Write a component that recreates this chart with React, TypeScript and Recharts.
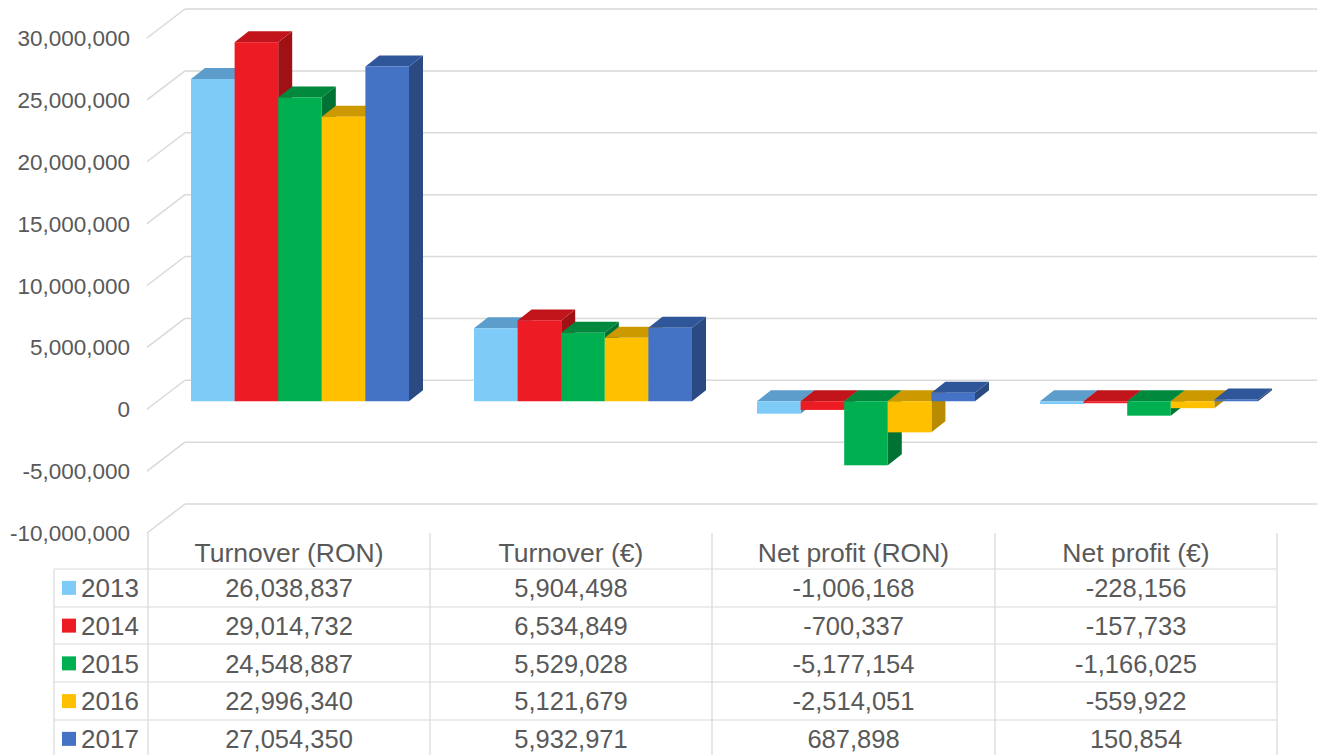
import React from 'react';
import { BarChart, Bar, XAxis, YAxis, CartesianGrid } from 'recharts';

// ---- data ----
const categories = ['Turnover (RON)', 'Turnover (€)', 'Net profit (RON)', 'Net profit (€)'];
const years = ['2013', '2014', '2015', '2016', '2017'];
const values2013 = [26038837, 5904498, -1006168, -228156];
const values2014 = [29014732, 6534849, -700337, -157733];
const values2015 = [24548887, 5529028, -5177154, -1166025];
const values2016 = [22996340, 5121679, -2514051, -559922];
const values2017 = [27054350, 5932971, 687898, 150854];
const yTicks = [-10000000, -5000000, 0, 5000000, 10000000, 15000000, 20000000, 25000000, 30000000];

const seriesValues = [values2013, values2014, values2015, values2016, values2017];

// front / top / side shades for each year
const palette = [
  { front: '#7FCBF8', top: '#5C9DCC', side: '#5890BD' },
  { front: '#ED1C24', top: '#C1151B', side: '#A01116' },
  { front: '#00B050', top: '#00883D', side: '#007234' },
  { front: '#FFC000', top: '#CC9A00', side: '#B88B00' },
  { front: '#4472C4', top: '#30569A', side: '#2C4A82' },
];

const data = categories.map((category, i) => {
  const row: Record<string, string | number> = { category };
  years.forEach((year, j) => {
    row[year] = seriesValues[j][i];
  });
  return row;
});

// ---- layout ----
const W = 1317;
const H = 755;
const CHART_H = 560;
const FONT = '"Liberation Sans", Arial, Helvetica, sans-serif';
const TEXT = '#595959';
const GRID = '#D9D9D9';
const DX = 14; // depth offset of the 3D faces
const DY = 11;
const BACK = 21; // back wall sits this far above the front plane
const LABEL_DROP = 8;

const fmt = (v: number) => v.toLocaleString('en-US');

function makeBarShape(colors: { front: string; top: string; side: string }) {
  return (props: any) => {
    const { x, y, width, height } = props;
    if (x == null || y == null) return <g />;
    const t = Math.min(y, y + height);
    const h = Math.abs(height);
    const l = x;
    const r = x + width;
    const b = t + h;
    return (
      <g>
        <polygon points={`${r},${t} ${r + DX},${t - DY} ${r + DX},${b - DY} ${r},${b}`} fill={colors.side} />
        <polygon points={`${l},${t} ${l + DX},${t - DY} ${r + DX},${t - DY} ${r},${t}`} fill={colors.top} />
        <rect x={l} y={t} width={width} height={h} fill={colors.front} />
      </g>
    );
  };
}

// back-wall gridline with the slanted connector to the value label
const gridLine = (props: any) => {
  const { x1, x2, y1, index } = props;
  const yb = y1 - BACK;
  return (
    <g key={`g-${index}`}>
      <line x1={x1 - 11} y1={y1 + LABEL_DROP} x2={x1 + 27} y2={yb} stroke={GRID} strokeWidth={1.5} />
      <line x1={x1 + 27} y1={yb} x2={x2 + 27} y2={yb} stroke={GRID} strokeWidth={1.5} />
    </g>
  );
};

const YTick = (props: any) => {
  const { y, payload } = props;
  return (
    <text
      x={130}
      y={y + LABEL_DROP}
      dy="0.36em"
      textAnchor="end"
      fontSize={22.5}
      fontFamily={FONT}
      fill={TEXT}
    >
      {fmt(payload.value)}
    </text>
  );
};

// ---- data table under the chart ----
const COLS = [148, 430, 712, 995, 1277];
const LEGEND_LEFT = 54;
const TABLE_TOP = 533;
const ROW_LINES = [569, 607, 644, 682, 720];
const ROW_H = 37.75;

function DataTable() {
  return (
    <svg width={W} height={H} style={{ position: 'absolute', left: 0, top: 0, pointerEvents: 'none' }}>
      {COLS.map((cx, i) => (
        <line key={`v${i}`} x1={cx} y1={TABLE_TOP} x2={cx} y2={H} stroke={GRID} strokeWidth={1.2} />
      ))}
      <line x1={LEGEND_LEFT} y1={ROW_LINES[0]} x2={LEGEND_LEFT} y2={H} stroke={GRID} strokeWidth={1.2} />
      {ROW_LINES.map((ry, i) => (
        <line key={`h${i}`} x1={LEGEND_LEFT} y1={ry} x2={COLS[4]} y2={ry} stroke={GRID} strokeWidth={1.2} />
      ))}
      {categories.map((c, i) => (
        <text
          key={`c${i}`}
          x={(COLS[i] + COLS[i + 1]) / 2}
          y={ROW_LINES[0] - 17}
          dy="0.36em"
          textAnchor="middle"
          fontSize={26.5}
          fontFamily={FONT}
          fill={TEXT}
        >
          {c}
        </text>
      ))}
      {years.map((year, j) => {
        const cy = ROW_LINES[0] + ROW_H * j + ROW_H / 2;
        return (
          <g key={`r${j}`}>
            <rect x={62} y={cy - 7} width={14} height={14} fill={palette[j].front} />
            <text x={81} y={cy} dy="0.36em" fontSize={26} fontFamily={FONT} fill={TEXT}>
              {year}
            </text>
            {seriesValues[j].map((v, i) => (
              <text
                key={`v${i}`}
                x={(COLS[i] + COLS[i + 1]) / 2}
                y={cy}
                dy="0.36em"
                textAnchor="middle"
                fontSize={25.5}
                fontFamily={FONT}
                fill={TEXT}
              >
                {fmt(v)}
              </text>
            ))}
          </g>
        );
      })}
    </svg>
  );
}

export default function App() {
  return (
    <div style={{ position: 'absolute', left: 0, top: 0, width: W, height: H, background: '#fff', fontFamily: FONT }}>
      <BarChart
        width={W}
        height={CHART_H}
        data={data}
        margin={{ top: 30, right: 27, left: 0, bottom: 35 }}
        barGap={0}
        barSize={43.6}
      >
        <CartesianGrid vertical={false} horizontal={gridLine} syncWithTicks />
        <XAxis dataKey="category" hide />
        <YAxis
          type="number"
          domain={[-10000000, 30000000]}
          ticks={yTicks}
          interval={0}
          width={158}
          axisLine={false}
          tickLine={false}
          tick={YTick}
        />
        {years.map((year, j) => (
          <Bar
            key={year}
            dataKey={year}
            fill={palette[j].front}
            shape={makeBarShape(palette[j])}
            isAnimationActive={false}
          />
        ))}
      </BarChart>
      <DataTable />
    </div>
  );
}
